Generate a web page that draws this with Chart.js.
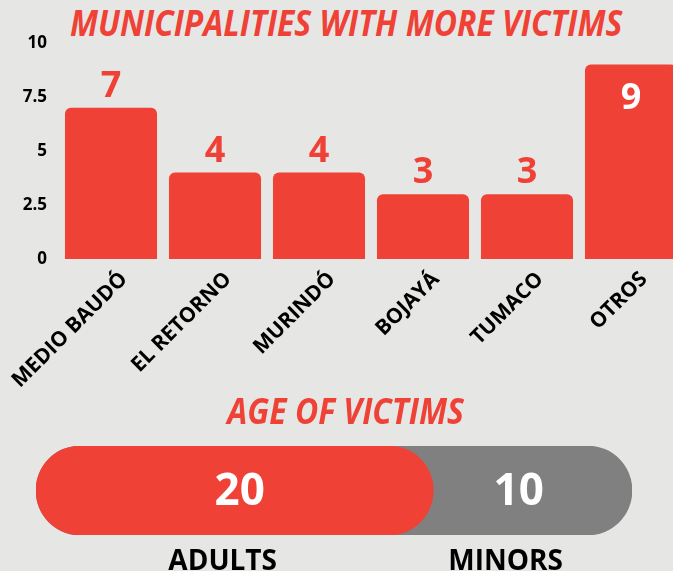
<!DOCTYPE html>
<html>
<head>
<meta charset="utf-8">
<script src="https://cdn.jsdelivr.net/npm/chart.js@4.4.1/dist/chart.umd.min.js"></script>
<style>
  html, body { margin: 0; padding: 0; }
  body {
    width: 673px; height: 571px; overflow: hidden; position: relative;
    background: #e6e6e4; font-family: 'Open Sans', sans-serif;
  }
  .title {
    position: absolute; left: 0; width: 692px; text-align: center;
    font: italic 700 36px/36px 'Open Sans', sans-serif; color: #ef4136;
  }
  .title span { display: inline-block; transform: scaleX(0.885); white-space: nowrap; }
  #topWrap { position: absolute; left: 0; top: 0; width: 700px; height: 400px; }
  #bottomWrap { position: absolute; left: 0; top: 440px; width: 673px; height: 131px; }
</style>
</head>
<body>
<div class="title" style="top:5px"><span>MUNICIPALITIES WITH MORE VICTIMS</span></div>
<div id="topWrap"><canvas id="municipios"></canvas></div>
<div class="title" style="top:393px"><span>AGE OF VICTIMS</span></div>
<div id="bottomWrap"><canvas id="edades"></canvas></div>
<script>
// datos
const municipios = ['MEDIO BAUDÓ', 'EL RETORNO', 'MURINDÓ', 'BOJAYÁ', 'TUMACO', 'OTROS'];
const victimas = [7, 4, 4, 3, 3, 9];
const yTicks = [0, 2.5, 5, 7.5, 10];

const grupos = ['ADULTS', 'MINORS'];
const adultos = 20;
const menores = 10;

const ROJO = '#ef4136';
const GRIS = '#808080';

// etiquetas de valor sobre/dentro de las barras
const valueLabels = {
    id: 'valueLabels',
    afterDatasetsDraw(chart) {
        const ctx = chart.ctx;
        const meta = chart.getDatasetMeta(0);
        ctx.save();
        ctx.font = '700 36px "Open Sans"';
        ctx.textAlign = 'center';
        meta.data.forEach((bar, i) => {
            const v = victimas[i];
            if (v >= 8) {
                ctx.fillStyle = '#ffffff';
                ctx.textBaseline = 'top';
                ctx.fillText(v, bar.x, bar.y + 16);
            } else {
                ctx.fillStyle = ROJO;
                ctx.textBaseline = 'alphabetic';
                ctx.fillText(v, bar.x, bar.y - 11);
            }
        });
        ctx.restore();
    }
};

new Chart(document.getElementById('municipios'), {
    type: 'bar',
    data: {
        labels: municipios,
        datasets: [{
            data: victimas,
            backgroundColor: ROJO,
            borderRadius: 6,
            categoryPercentage: 1,
            barPercentage: 0.885
        }]
    },
    options: {
        responsive: true,
        maintainAspectRatio: false,
        animation: false,
        layout: { padding: { top: 43, right: 17 } },
        plugins: { legend: { display: false }, tooltip: { enabled: false } },
        scales: {
            x: {
                grid: { display: false, drawTicks: false },
                border: { display: false },
                afterFit: (s) => {
                    s.height = 141;
                    s.paddingLeft = 0;
                    s.paddingRight = 0;
                },
                ticks: {
                    color: '#000',
                    font: { family: 'Open Sans', weight: '700', size: 21 },
                    minRotation: 45,
                    maxRotation: 45,
                    labelOffset: 13,
                    padding: 8
                }
            },
            y: {
                min: 0,
                max: 10,
                grid: { display: false, drawTicks: false },
                border: { display: false },
                afterFit: (s) => { s.width = 59; },
                afterBuildTicks: (s) => { s.ticks = yTicks.map(v => ({ value: v })); },
                ticks: {
                    color: '#000',
                    font: { family: 'Open Sans', weight: '700', size: 17 },
                    padding: 12
                }
            }
        }
    },
    plugins: [valueLabels]
});

// barra de edades
const ageLabels = {
    id: 'ageLabels',
    afterDatasetsDraw(chart) {
        const ctx = chart.ctx;
        const xs = chart.scales.x;
        const yMid = (chart.chartArea.top + chart.chartArea.bottom) / 2;
        const xAd = xs.getPixelForValue(adultos / 2) + 5;
        const xMe = xs.getPixelForValue(adultos + menores / 2) - 14;
        ctx.save();
        ctx.textAlign = 'center';
        ctx.fillStyle = '#ffffff';
        ctx.font = '700 44px "Open Sans"';
        ctx.textBaseline = 'middle';
        ctx.fillText(adultos, xAd, yMid + 2);
        ctx.fillText(menores, xMe, yMid + 2);
        ctx.fillStyle = '#000';
        ctx.font = '700 28px "Open Sans"';
        ctx.textBaseline = 'alphabetic';
        ctx.fillText(grupos[0], xAd - 17, chart.chartArea.bottom + 35);
        ctx.fillText(grupos[1], xMe - 13, chart.chartArea.bottom + 35);
        ctx.restore();
    }
};

new Chart(document.getElementById('edades'), {
    type: 'bar',
    data: {
        labels: [''],
        datasets: [
            {
                data: [adultos],
                backgroundColor: ROJO,
                borderRadius: 45,
                borderSkipped: false,
                grouped: false,
                categoryPercentage: 1,
                barPercentage: 1
            },
            {
                data: [adultos + menores],
                backgroundColor: GRIS,
                borderRadius: 45,
                borderSkipped: false,
                grouped: false,
                categoryPercentage: 1,
                barPercentage: 1
            }
        ]
    },
    options: {
        indexAxis: 'y',
        responsive: true,
        maintainAspectRatio: false,
        animation: false,
        layout: { padding: { top: 6, bottom: 36, left: 36, right: 41 } },
        plugins: { legend: { display: false }, tooltip: { enabled: false } },
        scales: {
            x: { display: false, min: 0, max: adultos + menores },
            y: { display: false }
        }
    },
    plugins: [ageLabels]
});
</script>
</body>
</html>
